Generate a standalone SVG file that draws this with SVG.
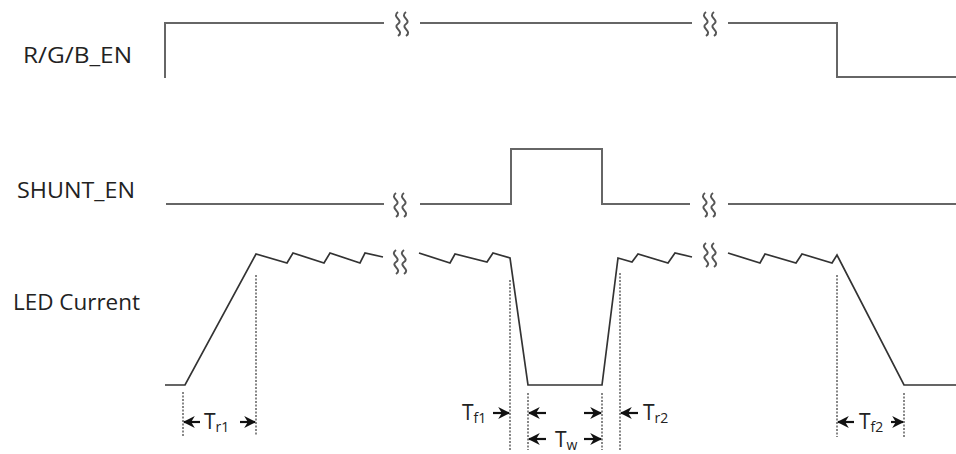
<svg xmlns="http://www.w3.org/2000/svg" width="956" height="454" viewBox="0 0 956 454">
<style>
.lbl{font-family:"Open Sans","Noto Sans","Liberation Sans",sans-serif;font-size:22px;fill:#222}
.tl{font-family:"Open Sans","Noto Sans","Liberation Sans",sans-serif;font-size:21px;fill:#222}
.sub{font-size:14px}
.sig{fill:none;stroke:#666;stroke-width:2}
.cur{fill:none;stroke:#333;stroke-width:1.7}
.dot{fill:none;stroke:#555;stroke-width:1.4;stroke-dasharray:2 1.5}
.arr{fill:none;stroke:#111;stroke-width:2.2}
.sq{fill:none;stroke:#555;stroke-width:2}
</style>
<defs>
<g id="squig">
<path class="sq" d="M-3,-12 C-10,-7 3,-4 -3,0 C-9,4 4,7 -3,12"/>
<path class="sq" d="M5,-12 C-2,-7 11,-4 5,0 C-1,4 12,7 5,12"/>
</g>
<marker id="ah" viewBox="0 0 10 10" refX="9" refY="5" markerWidth="12" markerHeight="12" markerUnits="userSpaceOnUse" orient="auto">
<path d="M0,0 L10,5 L0,10 L3,5 Z" fill="#111"/>
</marker>
</defs>

<g id="label-rgb"><text class="lbl" x="23" y="63" textLength="109" lengthAdjust="spacingAndGlyphs">R/G/B_EN</text></g>
<g id="label-shunt"><text class="lbl" x="17" y="198" textLength="118" lengthAdjust="spacingAndGlyphs">SHUNT_EN</text></g>
<g id="label-led"><text class="lbl" x="13" y="310" textLength="127" lengthAdjust="spacingAndGlyphs">LED Current</text></g>

<g id="signal-rgb">
<polyline class="sig" points="165,78 165,23 384,23"/>
<use href="#squig" x="401" y="24"/>
<line class="sig" x1="420" y1="23" x2="692" y2="23"/>
<use href="#squig" x="709" y="24"/>
<polyline class="sig" points="728,23 837,23 837,77 956,77"/>
</g>

<g id="signal-shunt">
<line class="sig" x1="166" y1="204" x2="384" y2="204"/>
<use href="#squig" x="399" y="205"/>
<polyline class="sig" points="420,204 511,204 511,149 602,149 602,204 690,204"/>
<use href="#squig" x="708" y="205"/>
<line class="sig" x1="728" y1="204" x2="956" y2="204"/>
</g>

<g id="signal-led">
<polyline class="cur" points="165,385 185,385 256,254 287,263 293,253 324,263 330,253 360,263 365,253 383,257"/>
<use href="#squig" x="399" y="262"/>
<polyline class="cur" points="419,253 450,263 455,254 487,262 493,253 510,258 528,385 602,385 618,258 632,262 638,254 668,263 675,253 692,257"/>
<use href="#squig" x="709" y="255"/>
<polyline class="cur" points="728,253 760,263 765,254 796,263 802,254 832,263 837,255 904,385 956,385"/>
</g>

<g id="guides">
<line class="dot" x1="183" y1="392" x2="183" y2="436"/>
<line class="dot" x1="256" y1="275" x2="256" y2="436"/>
<line class="dot" x1="510" y1="280" x2="510" y2="450"/>
<line class="dot" x1="528" y1="393" x2="528" y2="450"/>
<line class="dot" x1="602" y1="393" x2="602" y2="450"/>
<line class="dot" x1="620" y1="273" x2="620" y2="450"/>
<line class="dot" x1="837" y1="275" x2="837" y2="437"/>
<line class="dot" x1="904" y1="393" x2="904" y2="437"/>
</g>

<g id="connectors">
<line class="arr" x1="200" y1="422" x2="184" y2="422" marker-end="url(#ah)"/>
<line class="arr" x1="240" y1="422" x2="255" y2="422" marker-end="url(#ah)"/>
<line class="arr" x1="493" y1="413" x2="509" y2="413" marker-end="url(#ah)"/>
<line class="arr" x1="546" y1="413" x2="529" y2="413" marker-end="url(#ah)"/>
<line class="arr" x1="584" y1="413" x2="601" y2="413" marker-end="url(#ah)"/>
<line class="arr" x1="638" y1="413" x2="621" y2="413" marker-end="url(#ah)"/>
<line class="arr" x1="546" y1="439" x2="529" y2="439" marker-end="url(#ah)"/>
<line class="arr" x1="584" y1="439" x2="601" y2="439" marker-end="url(#ah)"/>
<line class="arr" x1="854" y1="422" x2="838" y2="422" marker-end="url(#ah)"/>
<line class="arr" x1="891" y1="422" x2="903" y2="422" marker-end="url(#ah)"/>
</g>

<g id="timing-labels">
<text class="tl" x="204" y="429">T<tspan class="sub" dy="3">r1</tspan></text>
<text class="tl" x="462" y="420">T<tspan class="sub" dy="3">f1</tspan></text>
<text class="tl" x="643" y="420">T<tspan class="sub" dy="3">r2</tspan></text>
<text class="tl" x="555" y="447">T<tspan class="sub" dy="3">w</tspan></text>
<text class="tl" x="859" y="429">T<tspan class="sub" dy="3">f2</tspan></text>
</g>
</svg>
